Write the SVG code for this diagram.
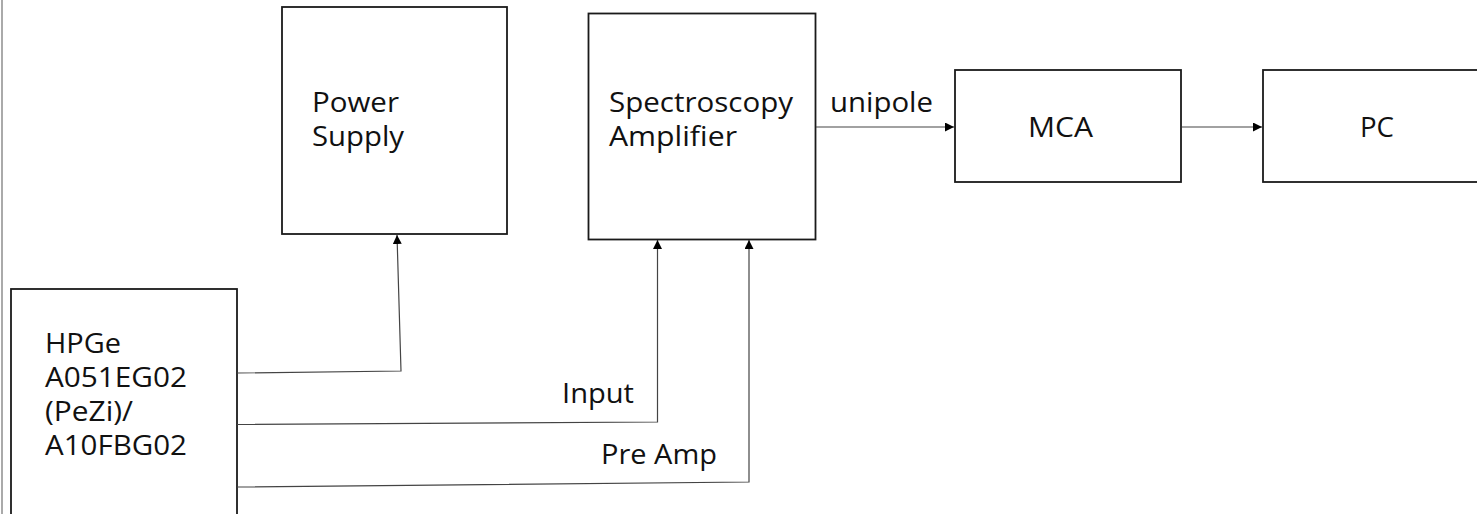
<svg xmlns="http://www.w3.org/2000/svg" width="1477" height="514" viewBox="0 0 1477 514">
<defs>
<marker id="arr" markerUnits="userSpaceOnUse" markerWidth="9" markerHeight="9" refX="10" refY="5" viewBox="0 0 10 10" orient="auto">
<path d="M0,0 L10,5 L0,10 z" fill="#000"/>
</marker>
<style>
.box{fill:#fff;stroke:#1a1a1a;stroke-width:1.8}
.t{font-family:"Open Sans","Liberation Sans",sans-serif;font-size:27px;fill:#111}
.c{fill:none;stroke:#444;stroke-width:1.2;marker-end:url(#arr)}
</style>
</defs>
<rect width="1477" height="514" fill="#fff"/>
<line x1="2" y1="0" x2="2" y2="514" stroke="#aaa" stroke-width="2"/>
<g id="power-supply">
<rect class="box" x="282" y="7" width="225" height="227"/>
<text class="t" x="312" y="112" textLength="87" lengthAdjust="spacingAndGlyphs">Power</text>
<text class="t" x="312" y="146" textLength="92" lengthAdjust="spacingAndGlyphs">Supply</text>
</g>
<g id="spectroscopy-amplifier">
<rect class="box" x="588.5" y="13.5" width="227" height="226"/>
<text class="t" x="609" y="112" textLength="184" lengthAdjust="spacingAndGlyphs">Spectroscopy</text>
<text class="t" x="609" y="146" textLength="128" lengthAdjust="spacingAndGlyphs">Amplifier</text>
</g>
<g id="mca">
<rect class="box" x="955" y="70" width="226" height="112"/>
<text class="t" x="1028" y="137" textLength="65" lengthAdjust="spacingAndGlyphs">MCA</text>
</g>
<g id="pc">
<rect class="box" x="1263" y="70" width="230" height="112"/>
<text class="t" x="1360" y="137" textLength="34" lengthAdjust="spacingAndGlyphs">PC</text>
</g>
<g id="hpge">
<rect class="box" x="11" y="289" width="226" height="240"/>
<text class="t" x="45" y="353" textLength="76" lengthAdjust="spacingAndGlyphs">HPGe</text>
<text class="t" x="45" y="387" textLength="142" lengthAdjust="spacingAndGlyphs">A051EG02</text>
<text class="t" x="45" y="421" textLength="88" lengthAdjust="spacingAndGlyphs">(PeZi)/</text>
<text class="t" x="45" y="455" textLength="142" lengthAdjust="spacingAndGlyphs">A10FBG02</text>
</g>
<g id="connectors">
<path class="c" d="M237,373 L401,371 L397,235"/>
<path class="c" d="M237,424.5 L657.5,422 L657.5,240"/>
<path class="c" d="M237,487 L749,482 L749,240"/>
<path class="c" d="M816,127 L954,127"/>
<path class="c" d="M1182,127 L1262,127"/>
<text class="t" x="830" y="112" textLength="103" lengthAdjust="spacingAndGlyphs">unipole</text>
<text class="t" x="562" y="403" textLength="72" lengthAdjust="spacingAndGlyphs">Input</text>
<text class="t" x="601" y="464" textLength="116" lengthAdjust="spacingAndGlyphs">Pre Amp</text>
</g>
</svg>
